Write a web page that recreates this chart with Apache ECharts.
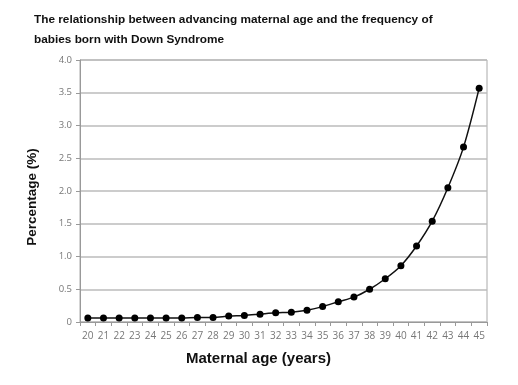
<!DOCTYPE html>
<html><head><meta charset="utf-8">
<script src="https://cdn.jsdelivr.net/npm/echarts@6/dist/echarts.min.js"></script>
<style>html,body{margin:0;padding:0;background:#fff}#c{width:518px;height:385px}</style>
</head><body><div id="c"></div>
<script>
const ages = ['20','21','22','23','24','25','26','27','28','29','30','31','32','33','34','35','36','37','38','39','40','41','42','43','44','45'];
const percentages = [0.06,0.06,0.06,0.06,0.06,0.06,0.06,0.07,0.07,0.09,0.10,0.12,0.14,0.15,0.18,0.235,0.31,0.38,0.50,0.66,0.86,1.16,1.54,2.05,2.67,3.57];
const titleText = 'The relationship between advancing maternal age and the frequency of\nbabies born with Down Syndrome';
const xName = 'Maternal age (years)';
const yName = 'Percentage (%)';

const chart = echarts.init(document.getElementById('c'));
chart.setOption({
  animation: false,
  title: {
    text: titleText, left: 29, top: 5,
    textStyle: {fontFamily: 'Liberation Sans, Arial', fontWeight: 'bold', fontSize: 11.8, color: '#111', lineHeight: 20}
  },
  grid: {left: 80, right: 31, top: 60, bottom: 63, show: true, borderColor: '#aaa', borderWidth: 1},
  xAxis: {
    type: 'category', data: ages, boundaryGap: true,
    name: xName, nameLocation: 'middle', nameGap: 29,
    nameTextStyle: {fontFamily: 'Liberation Sans, Arial', fontWeight: 'bold', fontSize: 15, color: '#111', padding: [0, 50, 0, 0]},
    axisLine: {lineStyle: {color: '#999'}},
    axisTick: {show: true, length: 4, lineStyle: {color: '#999'}},
    axisLabel: {color: '#777', fontFamily: 'Open Sans', fontSize: 10, margin: 9, interval: 0}
  },
  yAxis: {
    type: 'value', min: 0, max: 4, interval: 0.5,
    name: yName, nameLocation: 'middle', nameGap: 41, nameRotate: 90,
    nameTextStyle: {fontFamily: 'Liberation Sans, Arial', fontWeight: 'bold', fontSize: 13.5, color: '#111', padding: [0, 12, 0, 0]},
    axisLine: {show: true, lineStyle: {color: '#999'}},
    axisTick: {show: true, length: 4, lineStyle: {color: '#999'}},
    axisLabel: {color: '#777', fontFamily: 'Open Sans', fontSize: 9.5, margin: 8,
      formatter: v => v === 0 ? '0' : v.toFixed(1)},
    splitLine: {lineStyle: {color: '#bbb', width: 1.5}}
  },
  series: [{
    type: 'line', data: percentages, smooth: 0.3,
    symbol: 'circle', symbolSize: 7,
    lineStyle: {color: '#111', width: 1.5},
    itemStyle: {color: '#000'}
  }]
});
</script></body></html>
